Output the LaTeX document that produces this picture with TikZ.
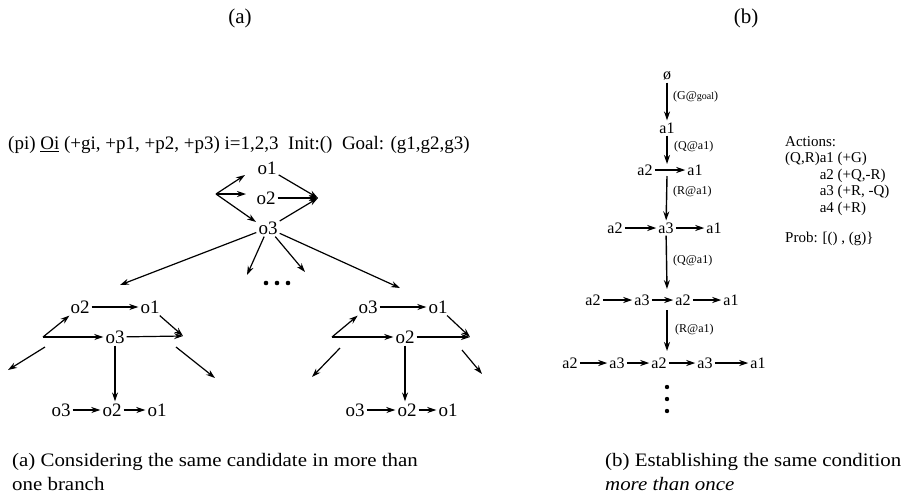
\documentclass[tikz,border=0pt]{standalone}
\usepackage{fontspec}
\setmainfont{Liberation Serif}
\newfontfamily\capfont[FakeStretch=1.1]{Liberation Serif}
\usetikzlibrary{arrows.meta}
\begin{document}
\begin{tikzpicture}[x=1pt,y=-1pt,
  lbl/.style={inner sep=2pt, font=\fontsize{19}{21}\selectfont},
  blbl/.style={inner sep=2pt, font=\fontsize{16}{18}\selectfont},
  elbl/.style={inner sep=0pt, anchor=west, font=\fontsize{12}{14}\selectfont},
  captxt/.style={inner sep=0pt, anchor=west, font=\capfont\fontsize{19}{21}\selectfont},
  ttl/.style={inner sep=0pt, font=\fontsize{21}{23}\selectfont},
  arr/.style={-{Stealth[length=9pt,width=6pt]}, line width=1.2pt},
  varr/.style={arr, line width=1.4pt},
  dotm/.style={fill=black, draw=none}]
\useasboundingbox (0,0) rectangle (912,499);

% titles
\node[ttl] (ta) at (240,18) {(a)};
\node[ttl] (tb) at (746,18) {(b)};

% header
\node[inner sep=0pt, anchor=west, font=\fontsize{19}{21}\selectfont] (hdr) at (8,145)
  {(pi) \underline{Oi} (+gi, +p1, +p2, +p3) i=1,2,3~~Init:()~~Goal: (g1,g2,g3)};

% ---------- part (a) top ----------
\node[lbl] (o1) at (267,168) {o1};
\node[lbl] (o2) at (266,198) {o2};
\node[lbl] (o3) at (268,228) {o3};
\coordinate (A) at (216,194);
\coordinate (Aa) at (245,175);
\coordinate (Ab) at (246,194);
\coordinate (Ac) at (256,222);
\coordinate (J) at (318,198);
\draw[arr] (A) -- (Aa);
\draw[arr] (A) -- (Ab);
\draw[arr] (A) -- (Ac);
\draw[arr] (o1) -- (J);
\draw[arr] (o2) -- (J);
\draw[arr] (o3) -- (J);

% mid arrows
\coordinate (ML) at (120,285);
\coordinate (MM1) at (247,275);
\coordinate (MM2) at (305,272);
\coordinate (MR) at (400,288);
\draw[arr] (o3) -- (ML);
\draw[arr] (o3) -- (MM1);
\draw[arr] (o3) -- (MM2);
\draw[arr] (o3) -- (MR);
\fill[dotm] (266,283) circle (2.3) (277,283) circle (2.3) (288,283) circle (2.3);

% ---------- left subtree ----------
\node[lbl] (lo2) at (80,307) {o2};
\node[lbl] (lo1) at (150,307) {o1};
\node[lbl] (lo3) at (115,337) {o3};
\coordinate (LA) at (43,337);
\coordinate (LJ) at (183,336);
\coordinate (LDa) at (45,347);
\coordinate (LDb) at (8,370);
\coordinate (LEa) at (176,347);
\coordinate (LEb) at (215,378);
\draw[arr] (lo2) -- (lo1);
\draw[arr] (LA) -- (lo2);
\draw[arr] (LA) -- (lo3);
\draw[arr] (lo3) -- (LJ);
\draw[arr] (lo1) -- (LJ);
\draw[arr] (LDa) -- (LDb);
\draw[arr] (LEa) -- (LEb);
\node[lbl] (lb3) at (61,410) {o3};
\node[lbl] (lb2) at (112,410) {o2};
\node[lbl] (lb1) at (157,410) {o1};
\draw[arr] (lo3) -- (lo3 |- lb2.north);
\draw[arr] (lb3) -- (lb2);
\draw[arr] (lb2) -- (lb1);

% ---------- right subtree ----------
\node[lbl] (ro3) at (368,307) {o3};
\node[lbl] (ro1) at (438,307) {o1};
\node[lbl] (ro2) at (405,337) {o2};
\coordinate (RA) at (332,337);
\coordinate (RJ) at (470,337);
\coordinate (RDa) at (340,348);
\coordinate (RDb) at (312,377);
\coordinate (REa) at (462,350);
\coordinate (REb) at (482,374);
\draw[arr] (ro3) -- (ro1);
\draw[arr] (RA) -- (ro3);
\draw[arr] (RA) -- (ro2);
\draw[arr] (ro2) -- (RJ);
\draw[arr] (ro1) -- (RJ);
\draw[arr] (RDa) -- (RDb);
\draw[arr] (REa) -- (REb);
\node[lbl] (rb3) at (355,410) {o3};
\node[lbl] (rb2) at (407,410) {o2};
\node[lbl] (rb1) at (448,410) {o1};
\draw[arr] (ro2) -- (ro2 |- rb2.north);
\draw[arr] (rb3) -- (rb2);
\draw[arr] (rb2) -- (rb1);

% ---------- part (b) ----------
\node[blbl] (e0) at (667,76) {ø};
\node[blbl] (b1) at (667,128) {a1};
\draw[varr] (e0) -- (b1);
\node[elbl] (l1) at (673,97) {(G@{\fontsize{10}{12}\selectfont goal})};
\coordinate (v2e) at (667,164);
\draw[varr] (b1) -- (v2e);
\node[elbl] (l2) at (674,147) {(Q@a1)};
\node[blbl] (r2a) at (645,170) {a2};
\node[blbl] (r2b) at (695,170) {a1};
\draw[arr] (r2a) -- (r2b);
\coordinate (v3s) at (667,176);
\node[blbl] (r3a) at (615,228) {a2};
\node[blbl] (r3b) at (666,228) {a3};
\node[blbl] (r3c) at (714,228) {a1};
\draw[varr] (v3s) -- (r3b);
\node[elbl] (l3) at (673,192) {(R@a1)};
\draw[arr] (r3a) -- (r3b);
\draw[arr] (r3b) -- (r3c);
\coordinate (v4e) at (667,289);
\draw[varr] (r3b) -- (v4e);
\node[elbl] (l4) at (673,261) {(Q@a1)};
\node[blbl] (r4a) at (593,300) {a2};
\node[blbl] (r4b) at (642,300) {a3};
\node[blbl] (r4c) at (683,300) {a2};
\node[blbl] (r4d) at (731,300) {a1};
\draw[arr] (r4a) -- (r4b);
\draw[arr] (r4b) -- (r4c);
\draw[arr] (r4c) -- (r4d);
\coordinate (v5s) at (667,310);
\node[blbl] (r5a) at (570,363) {a2};
\node[blbl] (r5b) at (617,363) {a3};
\node[blbl] (r5c) at (659,363) {a2};
\node[blbl] (r5d) at (705,363) {a3};
\node[blbl] (r5e) at (758,363) {a1};
\coordinate (v5e) at (667,351);
\draw[varr] (v5s) -- (v5e);
\node[elbl] (l5) at (675,330) {(R@a1)};
\draw[arr] (r5a) -- (r5b);
\draw[arr] (r5b) -- (r5c);
\draw[arr] (r5c) -- (r5d);
\draw[arr] (r5d) -- (r5e);
\fill[dotm] (667,387) circle (2.2) (667,399) circle (2.2) (667,411) circle (2.2);

% actions
\node[inner sep=0pt, anchor=north west, align=left, font=\fontsize{15}{16.5}\selectfont] (act) at (785,136)
  {Actions:\\(Q,R)a1 (+G)\\\phantom{(Q,R)}a2 (+Q,-R)\\\phantom{(Q,R)}a3 (+R, -Q)\\\phantom{(Q,R)}a4 (+R)};
\node[inner sep=0pt, anchor=west, font=\fontsize{15}{16}\selectfont] (prob) at (785,239) {Prob: [() , (g)\}};

% captions
\node[captxt] (ca1) at (12,462) {(a) Considering the same candidate in more than};
\node[captxt] (ca2) at (12,484) {one branch};
\node[captxt] (cb1) at (605,462) {(b) Establishing the same condition};
\node[captxt] (cb2) at (605,484) {\itshape more than once};
\end{tikzpicture}
\end{document}
